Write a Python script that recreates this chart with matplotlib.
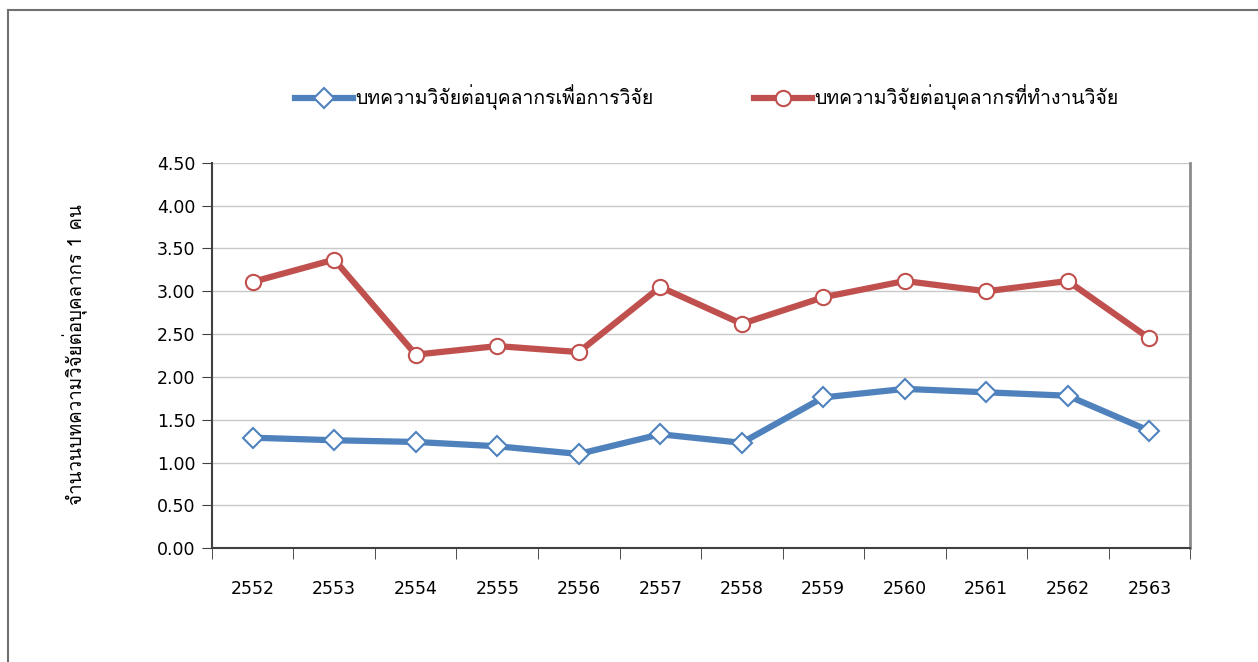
import matplotlib
matplotlib.use("Agg")
import matplotlib.pyplot as plt
from matplotlib import font_manager, ft2font
from matplotlib.lines import Line2D

years = ["2552", "2553", "2554", "2555", "2556", "2557",
         "2558", "2559", "2560", "2561", "2562", "2563"]
per_research_staff = [1.29, 1.26, 1.24, 1.19, 1.10, 1.33,
                      1.23, 1.76, 1.86, 1.82, 1.78, 1.37]
per_working_staff = [3.11, 3.37, 2.26, 2.36, 2.29, 3.05,
                     2.62, 2.93, 3.12, 3.00, 3.12, 2.45]
label_blue = "บทความวิจัยต่อบุคลากรเพื่อการวิจัย"
label_red = "บทความวิจัยต่อบุคลากรที่ทำงานวิจัย"
y_title = "จำนวนบทความวิจัยต่อบุคลากร 1 คน"


# find an installed font that has Thai glyphs
def thai_family():
    for f in font_manager.fontManager.ttflist:
        try:
            if 0x0E1A in ft2font.FT2Font(f.fname).get_charmap():
                return f.name
        except Exception:
            pass
    return None


fam = thai_family()
thai = ([fam] if fam else []) + ["DejaVu Sans"]
plt.rcParams["font.family"] = thai

blue = "#4F81BD"
red = "#C0504D"

fig = plt.figure(figsize=(12.58, 6.62), dpi=100)
ax = fig.add_axes([0.1685, 0.172, 0.7775, 0.582])

x = list(range(len(years)))
ax.plot(x, per_research_staff, color=blue, lw=4.5, marker="D", ms=10,
        mfc="white", mec=blue, mew=1.5, solid_joinstyle="round", zorder=3)
ax.plot(x, per_working_staff, color=red, lw=4.5, marker="o", ms=11,
        mfc="white", mec=red, mew=1.5, solid_joinstyle="round", zorder=3)

ax.set_xlim(-0.5, len(years) - 0.5)
ax.set_ylim(0, 4.5)
ax.set_yticks([i * 0.5 for i in range(10)])
ax.set_yticklabels([f"{i * 0.5:.2f}" for i in range(10)], fontsize=12.5,
                   family="DejaVu Sans")
ax.set_xticks(x)
ax.set_xticklabels(years, fontsize=12.5, family="DejaVu Sans")
ax.set_xticks([i - 0.5 for i in range(len(years) + 1)], minor=True)
ax.tick_params(axis="x", which="major", length=0, pad=23)
ax.tick_params(axis="x", which="minor", length=8, direction="out", color="#303030")
ax.tick_params(axis="y", length=7, direction="out", color="#404040", pad=5)

ax.grid(axis="y", color="#C8C8C8", lw=1)
ax.set_axisbelow(True)
for side in ["left", "bottom"]:
    ax.spines[side].set_color("#404040")
    ax.spines[side].set_linewidth(1.5)
ax.spines["top"].set_visible(False)
ax.spines["right"].set_color("#8C8C8C")
ax.spines["right"].set_linewidth(2)

fig.text(75 / 1258, 1 - 355 / 662, y_title, rotation=90, ha="center", va="center",
         fontsize=13.5)

handles = [
    Line2D([], [], color=blue, lw=4.5, marker="D", ms=10, mfc="white", mec=blue, mew=1.5),
    Line2D([], [], color=red, lw=4.5, marker="o", ms=11, mfc="white", mec=red, mew=1.5),
]
fig.legend(handles, [label_blue, label_red], loc="center", bbox_to_anchor=(0.5616, 0.853),
           ncol=2, frameon=False, fontsize=14, handlelength=3.0, handletextpad=0.1,
           columnspacing=5.15)

# outer chart frame: top and left edges only
fig.add_artist(Line2D([0.0063, 1.0], [0.985, 0.985], color="#707070", lw=1.5))
fig.add_artist(Line2D([0.0063, 0.0063], [0.0, 0.985], color="#707070", lw=1.5))

fig.savefig("out.png", dpi=100, facecolor="white")
